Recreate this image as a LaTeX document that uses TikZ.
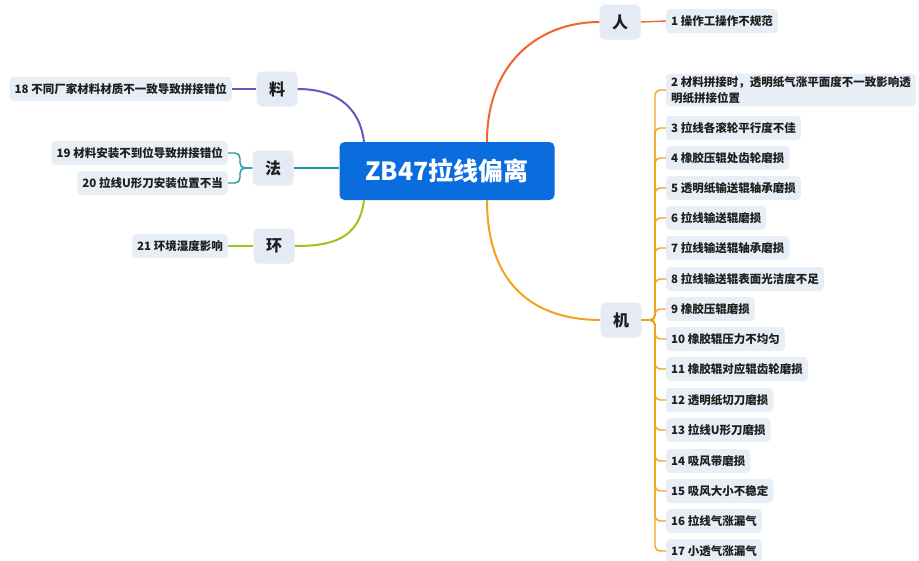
\documentclass[tikz,border=0pt]{standalone}
\usepackage{fontspec}
\setmainfont{Noto Sans CJK SC}
\usetikzlibrary{calc}
\definecolor{mainblue}{HTML}{0B6CDD}
\definecolor{itembg}{HTML}{E8EEF6}
\definecolor{catbg}{HTML}{E4EBF4}
\definecolor{cren}{HTML}{F0642D}
\definecolor{cji}{HTML}{F2A31B}
\definecolor{cliao}{HTML}{6657C0}
\definecolor{cfa}{HTML}{1C98A6}
\definecolor{chuan}{HTML}{9DC41C}
\definecolor{txt}{HTML}{1E1E1E}
\begin{document}
\begin{tikzpicture}[x=1pt,y=-1pt,
  item/.style={fill=itembg,rounded corners=4pt,inner xsep=5pt,inner ysep=3pt,minimum height=24pt,text=txt,font=\bfseries\fontsize{11.5}{15.5}\selectfont,align=left},
  cat/.style={fill=catbg,rounded corners=5pt,minimum width=41pt,minimum height=35pt,text=txt,font=\bfseries\fontsize{16}{18}\selectfont},
  link/.style={line width=1.4pt,rounded corners=5pt},
  trunk/.style={line width=2pt}]
\useasboundingbox[fill=white] (0,0) rectangle (919,560);
% central
\node[fill=mainblue,rounded corners=5pt,minimum width=215pt,minimum height=58pt,text=white,font=\bfseries\fontsize{25}{27}\selectfont] (c) at (447,171) {ZB47拉线偏离};
% categories
\node[cat] (ren) at (620,22) {人};
\node[cat] (ji) at (621,320) {机};
\node[cat] (liao) at (277,89) {料};
\node[cat] (fa) at (273,168) {法};
\node[cat] (huan) at (274,246) {环};
% right items
\node[item,anchor=west] (i1) at (666,21) {1 操作工操作不规范};
\node[item,anchor=west] (i2) at (666,90) {2 材料拼接时，透明纸气涨平面度不一致影响透\\明纸拼接位置};
\node[item,anchor=west] (i3) at (666,128) {3 拉线各滚轮平行度不佳};
\node[item,anchor=west] (i4) at (666,158) {4 橡胶压辊处齿轮磨损};
\node[item,anchor=west] (i5) at (666,188) {5 透明纸输送辊轴承磨损};
\node[item,anchor=west] (i6) at (666,218) {6 拉线输送辊磨损};
\node[item,anchor=west] (i7) at (666,248) {7 拉线输送辊轴承磨损};
\node[item,anchor=west] (i8) at (666,279) {8 拉线输送辊表面光洁度不足};
\node[item,anchor=west] (i9) at (666,309) {9 橡胶压辊磨损};
\node[item,anchor=west] (i10) at (666,339) {10 橡胶辊压力不均匀};
\node[item,anchor=west] (i11) at (666,369) {11 橡胶辊对应辊齿轮磨损};
\node[item,anchor=west] (i12) at (666,400) {12 透明纸切刀磨损};
\node[item,anchor=west] (i13) at (666,430) {13 拉线U形刀磨损};
\node[item,anchor=west] (i14) at (666,461) {14 吸风带磨损};
\node[item,anchor=west] (i15) at (666,491) {15 吸风大小不稳定};
\node[item,anchor=west] (i16) at (666,521) {16 拉线气涨漏气};
\node[item,anchor=west] (i17) at (666,551) {17 小透气涨漏气};
% left items
\node[item,anchor=east] (i18) at (232,89) {18 不同厂家材料材质不一致导致拼接错位};
\node[item,anchor=east] (i19) at (228,153) {19 材料安装不到位导致拼接错位};
\node[item,anchor=east] (i20) at (228,183) {20 拉线U形刀安装位置不当};
\node[item,anchor=east] (i21) at (228,246) {21 环境湿度影响};
% main curves
\draw[trunk,cren] ($(c.north)+(40,0)$) .. controls ($(c.north)+(40,-80)$) and (540,22) .. (ren.west);
\draw[trunk,cji] ($(c.south)+(40,0)$) .. controls ($(c.south)+(40,90)$) and (540,320) .. (ji.west);
\draw[trunk,cliao] ($(c.north)+(-83,0)$) .. controls ($(c.north)+(-88,-40)$) and (330,89) .. (liao.east);
\draw[trunk,cfa] (fa.east) -- (fa.east -| c.west);
\draw[trunk,chuan] ($(c.south)+(-83,0)$) .. controls ($(c.south)+(-88,40)$) and (330,246) .. (huan.east);
% right links
\draw[link,cren] (ren.east) -- (i1.west);
\foreach \k in {2,...,17}{
  \draw[link,cji] (ji.east) -- (655,320) |- (i\k.west);
}
% left links
\draw[link,cliao] (liao.west) -- (i18.east);
\foreach \k in {19,20}{
  \draw[link,cfa] (fa.west) -- (240,168) |- (i\k.east);
}
\draw[link,chuan] (huan.west) -- (i21.east);
\end{tikzpicture}
\end{document}
